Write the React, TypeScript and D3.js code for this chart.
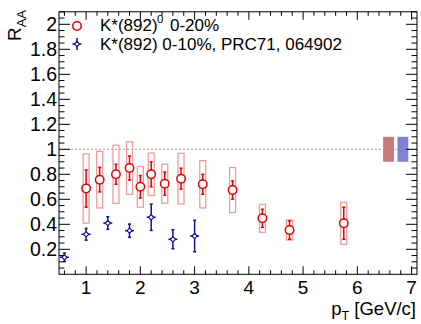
import React from "react";
import * as d3 from "d3";

// K*(892)^0 R_AA, 0-20% centrality
const kstarPt = [1.0, 1.25, 1.55, 1.8, 2.0, 2.2, 2.45, 2.75, 3.15, 3.7, 4.25, 4.75, 5.75];
const kstarRaa = [0.686, 0.757, 0.8, 0.85, 0.7, 0.8, 0.725, 0.765, 0.72, 0.674, 0.448, 0.354, 0.408];
const kstarStat = [0.149, 0.098, 0.08, 0.096, 0.09, 0.1, 0.093, 0.084, 0.08, 0.073, 0.072, 0.073, 0.128];
const kstarSys = [0.277, 0.226, 0.232, 0.21, 0.163, 0.17, 0.156, 0.203, 0.189, 0.18, 0.112, 0.08, 0.168];
const kstarSysHalfWidth = 0.055;

// K*(892) R_AA, 0-10% centrality (PRC71, 064902)
const refPt = [0.6, 1.0, 1.4, 1.8, 2.2, 2.6, 3.0];
const refRaa = [0.136, 0.32, 0.41, 0.349, 0.456, 0.28, 0.306];
const refErr = [0.034, 0.047, 0.05, 0.053, 0.105, 0.076, 0.126];

// Normalization uncertainty boxes at unity
const normX = [6.575, 6.84];
const normHalfWidth = 0.1;
const normErr = [0.1, 0.1];
const normColors = ["#c97a7a", "#8282d2"];

const xTicks = [1, 2, 3, 4, 5, 6, 7];
const yTicks = [0.2, 0.4, 0.6, 0.8, 1, 1.2, 1.4, 1.6, 1.8, 2];
const xDomain = [0.5, 7.1];
const yDomain = [0, 2.1];

const legendMain = "K*(892)";
const legendSup = "0";
const legendCent = "0-20%";
const legendRef = "K*(892) 0-10%, PRC71, 064902";

const W = 421;
const H = 324;
const L = 59;
const R = 417;
const T = 11.8;
const B = 274.3;

const RED = "#e00000";
const RED_BOX = "#ef9c9c";
const BLUE = "#10109a";
const FONT = "'Liberation Sans', Arial, sans-serif";

export default function App() {
  const x = d3.scaleLinear().domain(xDomain).range([L, R]);
  const y = d3.scaleLinear().domain(yDomain).range([B, T]);

  const xMinor = d3.range(0.6, 7.1001, 0.2).filter((v) => v <= xDomain[1] + 1e-9);
  const yMinor = d3.range(0.05, 2.1001, 0.05);

  const isMajor = (v: number, step: number) =>
    Math.abs(v / step - Math.round(v / step)) < 1e-6;

  return (
    <svg
      width={W}
      height={H}
      style={{ position: "absolute", left: 0, top: 0, background: "#fff" }}
      fontFamily={FONT}
    >
      <rect x={0} y={0} width={W} height={H} fill="#fff" />

      {/* unity reference line */}
      <line
        x1={L}
        x2={R}
        y1={y(1)}
        y2={y(1)}
        stroke="#b4b4b4"
        strokeWidth={1.2}
        strokeDasharray="2,2"
      />

      {/* normalization boxes */}
      {normX.map((nx, i) => (
        <rect
          key={"n" + i}
          x={x(nx - normHalfWidth)}
          y={y(1 + normErr[i])}
          width={x(nx + normHalfWidth) - x(nx - normHalfWidth)}
          height={y(1 - normErr[i]) - y(1 + normErr[i])}
          fill={normColors[i]}
        />
      ))}

      {/* systematic boxes */}
      {kstarPt.map((p, i) => (
        <rect
          key={"s" + i}
          x={x(p - kstarSysHalfWidth)}
          y={y(kstarRaa[i] + kstarSys[i])}
          width={x(p + kstarSysHalfWidth) - x(p - kstarSysHalfWidth)}
          height={y(kstarRaa[i] - kstarSys[i]) - y(kstarRaa[i] + kstarSys[i])}
          fill="none"
          stroke={RED_BOX}
          strokeWidth={1.3}
        />
      ))}

      {/* reference K* points */}
      {refPt.map((p, i) => {
        const cx = x(p);
        const cy = y(refRaa[i]);
        const y1 = y(refRaa[i] + refErr[i]);
        const y2 = y(refRaa[i] - refErr[i]);
        return (
          <g key={"b" + i} stroke={BLUE} strokeWidth={1.5}>
            <line x1={cx} x2={cx} y1={y1} y2={y2} />
            <line x1={cx - 1.5} x2={cx + 1.5} y1={y1} y2={y1} />
            <line x1={cx - 1.5} x2={cx + 1.5} y1={y2} y2={y2} />
            <line x1={cx - 4.5} x2={cx + 4.5} y1={cy} y2={cy} />
            <path
              d={`M${cx},${cy - 2.6}L${cx + 2.6},${cy}L${cx},${cy + 2.6}L${cx - 2.6},${cy}Z`}
              fill="#fff"
              strokeWidth={1.2}
            />
          </g>
        );
      })}

      {/* K*0 points with statistical errors */}
      {kstarPt.map((p, i) => {
        const cx = x(p);
        const cy = y(kstarRaa[i]);
        const y1 = y(kstarRaa[i] + kstarStat[i]);
        const y2 = y(kstarRaa[i] - kstarStat[i]);
        return (
          <g key={"r" + i} stroke={RED} strokeWidth={1.5}>
            <line x1={cx} x2={cx} y1={y1} y2={y2} />
            <line x1={cx - 1.5} x2={cx + 1.5} y1={y1} y2={y1} />
            <line x1={cx - 1.5} x2={cx + 1.5} y1={y2} y2={y2} />
            <circle cx={cx} cy={cy} r={4.2} fill="#fff" />
          </g>
        );
      })}

      {/* frame and ticks */}
      <rect x={L} y={T} width={R - L} height={B - T} fill="none" stroke="#000" strokeWidth={1} />
      <g stroke="#000" strokeWidth={1}>
        {xMinor.map((v, i) => {
          const major = isMajor(v, 1);
          const len = major ? 8 : 4;
          const px = x(v);
          return (
            <g key={"xt" + i}>
              <line x1={px} x2={px} y1={B} y2={B - len} />
              <line x1={px} x2={px} y1={T} y2={T + len} />
            </g>
          );
        })}
        {yMinor.map((v, i) => {
          const major = isMajor(v, 0.2);
          const len = major ? 11 : 5.5;
          const py = y(v);
          return (
            <g key={"yt" + i}>
              <line x1={L} x2={L + len} y1={py} y2={py} />
              <line x1={R} x2={R - len} y1={py} y2={py} />
            </g>
          );
        })}
      </g>

      {/* tick labels */}
      <g fill="#000">
        {xTicks.map((v) => (
          <text key={"xl" + v} x={x(v)} y={294} fontSize={19} textAnchor="middle">
            {v}
          </text>
        ))}
        {yTicks.map((v) => (
          <text key={"yl" + v} x={57} y={y(v)} dy="0.36em" fontSize={19.5} textAnchor="end">
            {d3.format("~g")(v)}
          </text>
        ))}
      </g>

      {/* axis titles */}
      <text x={416} y={315} fontSize={18.5} textAnchor="end" fill="#000">
        p<tspan fontSize={12.5} dy={4.5}>T</tspan>
        <tspan dy={-4.5}> [GeV/c]</tspan>
      </text>
      <text transform="translate(21,10) rotate(-90)" fontSize={19} textAnchor="end" fill="#000">
        R<tspan fontSize={13} dy={5}>AA</tspan>
      </text>

      {/* legend */}
      <g>
        <circle cx={77} cy={26} r={4.2} fill="#fff" stroke={RED} strokeWidth={1.5} />
        <text x={100} y={30.5} fontSize={17} fill="#000">
          {legendMain}
        </text>
        <text x={157} y={23} fontSize={11.5} fill="#000">
          {legendSup}
        </text>
        <text x={170} y={30.5} fontSize={17} fill="#000">
          {legendCent}
        </text>
        <g stroke={BLUE} strokeWidth={1.5}>
          <line x1={77} x2={77} y1={38} y2={50} />
          <line x1={72.5} x2={81.5} y1={44} y2={44} />
          <path d="M77,41.4L79.6,44L77,46.6L74.4,44Z" fill="#fff" strokeWidth={1.2} />
        </g>
        <text x={100} y={50} fontSize={17} fill="#000">
          {legendRef}
        </text>
      </g>
    </svg>
  );
}
